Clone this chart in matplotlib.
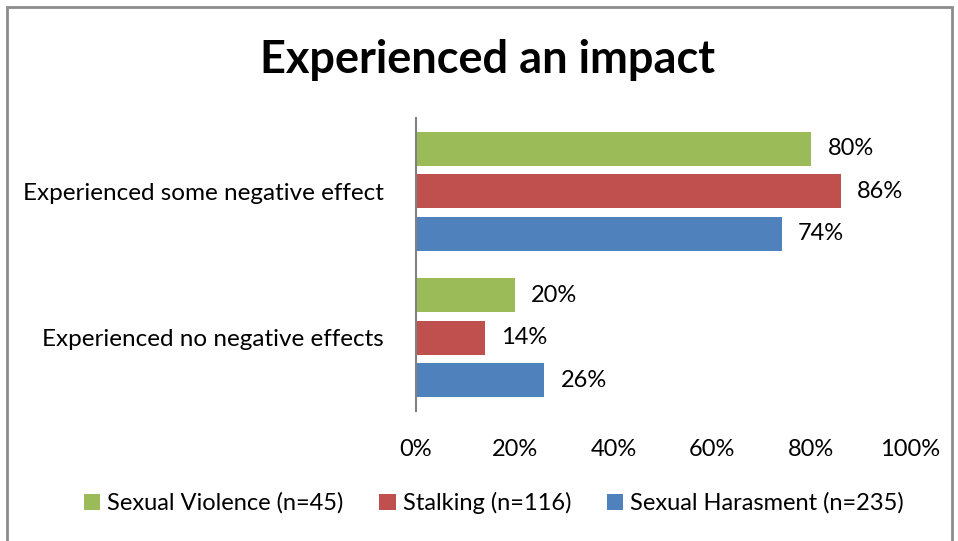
import matplotlib
matplotlib.use("Agg")
import matplotlib.pyplot as plt
from matplotlib.patches import Rectangle
import numpy as np

plt.rcParams['font.family'] = ['Lato', 'DejaVu Sans']

categories = ["Experienced no negative effects", "Experienced some negative effect"]
series_names = ["Sexual Violence (n=45)", "Stalking (n=116)", "Sexual Harasment (n=235)"]
sexual_violence = [20, 80]
stalking = [14, 86]
sexual_harassment = [26, 74]
colors = ["#9BBB59", "#C0504D", "#4F81BD"]
xticks = [0, 20, 40, 60, 80, 100]

fig = plt.figure(figsize=(9.58, 5.41), dpi=100)
ax = fig.add_axes([416/958, 1-411/541, (910-416)/958, (411-118)/541])

y = np.arange(len(categories))
offsets = [0.29, 0.0, -0.29]
h = 0.23
data = [sexual_violence, stalking, sexual_harassment]
fs = 17
for vals, off, c, name in zip(data, offsets, colors, series_names):
    ax.barh(y + off, vals, height=h, color=c, label=name, edgecolor='none')
    for yi, v in zip(y, vals):
        ax.text(v + 3.3, yi + off, f"{v}%", va='center', ha='left', fontsize=fs)

ax.set_xlim(0, 100)
ax.set_ylim(-0.5, 1.5)
ax.set_xticks(xticks)
ax.set_xticklabels([f"{t}%" for t in xticks], fontsize=fs)
ax.set_yticks(y)
ax.set_yticklabels(categories, fontsize=17.5)
ax.tick_params(axis='x', length=0, pad=20)
ax.tick_params(axis='y', length=0, pad=23)
for s in ['top', 'right', 'bottom']:
    ax.spines[s].set_visible(False)
ax.spines['left'].set_color('#808080')
ax.spines['left'].set_linewidth(1.5)

fig.text(488/958, 1-60/541, "Experienced an impact", ha='center', va='center',
         fontsize=32.5, fontweight='bold')

handles, labels = ax.get_legend_handles_labels()
leg = fig.legend(handles, labels, loc='center', bbox_to_anchor=(494/958, 1-503/541),
                 ncol=3, frameon=False, fontsize=fs, handlelength=0.7, handleheight=0.7,
                 handletextpad=0.3, columnspacing=1.5)

fig.patches.append(Rectangle((7/958, -0.05), (952-7)/958, 1-7/541+0.05, transform=fig.transFigure,
                             fill=False, edgecolor='#8c8c8c', linewidth=2))

fig.savefig("out.png", dpi=100)
